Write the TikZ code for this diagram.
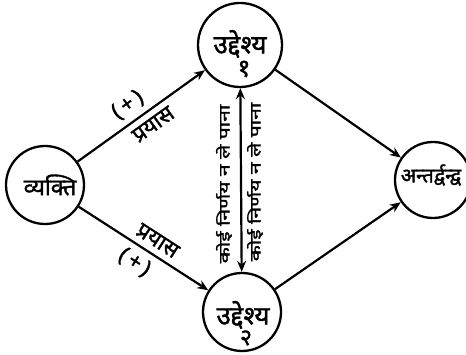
\documentclass[tikz,border=0pt]{standalone}
\usepackage{fontspec}
\usepackage{graphicx}
\newfontfamily\deva[Script=Devanagari,FakeBold=1.6]{Noto Sans}
\usetikzlibrary{arrows.meta}
\begin{document}
\begin{tikzpicture}[x=1pt,y=-1pt,
  circ/.style={circle,draw,line width=2.3pt,inner sep=0pt},
  conn/.style={line width=2.2pt,-{Stealth[length=11pt,width=9pt]}},
  txt/.style={inner sep=0pt},
  lab/.style={font=\deva\fontsize{22}{24}\selectfont,inner sep=6pt},
  vlab/.style={font=\deva\fontsize{15}{16}\selectfont,rotate=90,inner sep=0pt}]
\useasboundingbox (0,0) rectangle (466,355);
\node[circ,minimum size=78pt] (v) at (45,185) {};
\node[circ,minimum size=84pt] (u1) at (240,45) {};
\node[circ,minimum size=78pt] (u2) at (242,312) {};
\node[circ,minimum size=76pt] (a) at (433,180) {};
\node[txt,font=\deva\fontsize{23}{24}\selectfont] (vt) at (50,185) {व्यक्ति};
\node[txt,font=\deva\fontsize{26}{28}\selectfont] (u1t) at (240,44) {उद्देश्य};
\node[txt,font=\deva\fontsize{25}{26}\selectfont] (u1n) at (244,69) {१};
\node[txt,font=\deva\fontsize{26}{28}\selectfont] (u2t) at (243,315) {उद्देश्य};
\node[txt,font=\deva\fontsize{23}{24}\selectfont] (u2n) at (246,338) {२};
\node[txt,font=\deva\fontsize{20}{22}\selectfont] (at) at (431,175) {अन्तर्द्वन्द्व};
\draw[conn] (v) -- node[lab,sloped,above,pos=0.47]{(\,+\,)} node[lab,sloped,below,pos=0.53]{प्रयास} (u1);
\draw[conn] (v) -- node[lab,sloped,above,pos=0.55]{प्रयास} node[lab,sloped,below,pos=0.5]{(\,+\,)} (u2);
\draw[conn] (u1) -- (a);
\draw[conn] (u2) -- (a);
\draw[line width=2.2pt,{Stealth[length=11pt,width=9pt]}-{Stealth[length=11pt,width=9pt]}] (u1) -- (u2);
\node[vlab] (t1) at (224,184) {\scalebox{1.4}[1]{कोई निर्णय न ले पाना}};
\node[vlab] (t2) at (255,182) {\scalebox{1.4}[1]{कोई निर्णय न ले पाना}};
\end{tikzpicture}
\end{document}
